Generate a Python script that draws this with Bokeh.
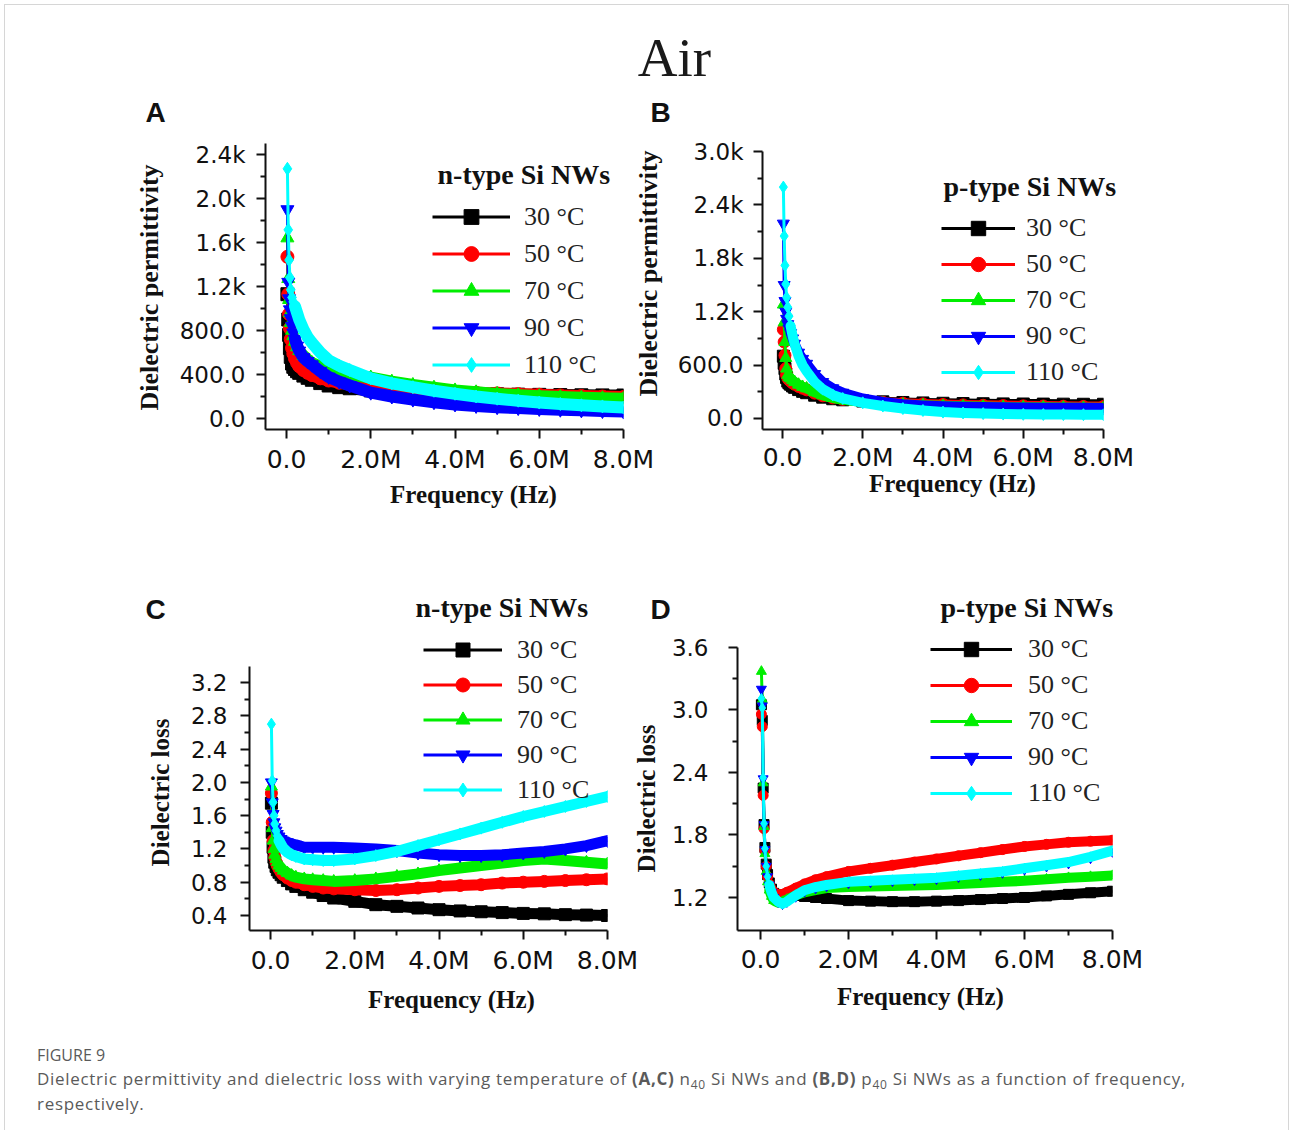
import math
from bokeh.plotting import figure
from bokeh.models import Range1d, FixedTicker, Label, Legend, LegendItem, Div, ColumnDataSource
from bokeh.layouts import row, column
from bokeh.embed import file_html
from bokeh.resources import INLINE

# ---------------- data ----------------
FREQ_MHZ = [0.02, 0.04, 0.06, 0.08, 0.1, 0.13, 0.16, 0.2, 0.25, 0.3, 0.4, 0.5, 0.6, 0.8, 1.0,
            1.25, 1.5, 2.0, 2.5, 3.0, 3.5, 4.0, 4.5, 5.0, 5.5, 6.0, 6.5, 7.0, 7.5, 8.0]
BAND_FROM = 7  # index from which the dense points merge into a band

TEMP_LABELS = ["30 °C", "50 °C", "70 °C", "90 °C", "110 °C"]
COLORS = ["#000000", "#ff0000", "#00ee00", "#0000ff", "#00ffff"]
MARKERS = ["square", "circle", "triangle", "inverted_triangle", "diamond"]

# (A) n-type permittivity
N_PERM_30 = [1130, 900, 760, 640, 560, 500, 470, 450, 430, 415, 390, 370, 352, 322, 300, 285, 275, 255, 245, 238, 232, 227, 223, 220, 217, 215, 213, 211, 210, 209]
N_PERM_50 = [1470, 1130, 950, 820, 720, 640, 590, 545, 505, 475, 440, 415, 395, 365, 345, 325, 310, 290, 275, 262, 252, 243, 235, 228, 222, 216, 210, 205, 200, 195]
N_PERM_70 = [1640, 1270, 1080, 960, 870, 800, 750, 700, 650, 615, 570, 535, 505, 470, 445, 420, 400, 372, 335, 305, 280, 255, 238, 224, 212, 203, 195, 189, 184, 180]
N_PERM_90 = [1900, 1240, 1090, 990, 910, 840, 780, 720, 660, 615, 555, 520, 490, 430, 378, 335, 300, 235, 200, 172, 148, 128, 114, 103, 95, 87, 80, 74, 68, 63]
N_PERM_110 = [2270, 1715, 1440, 1280, 1170, 1100, 1060, 1020, 960, 900, 810, 740, 690, 600, 530, 480, 440, 365, 320, 285, 252, 225, 200, 180, 162, 145, 132, 120, 110, 100]

# (B) p-type permittivity
P_PERM_30 = [700, 620, 560, 500, 460, 420, 400, 385, 365, 350, 325, 305, 290, 262, 240, 222, 210, 196, 187, 180, 175, 171, 168, 166, 164, 163, 162, 161, 160, 160]
P_PERM_50 = [1000, 860, 710, 560, 490, 455, 435, 420, 400, 385, 360, 340, 322, 285, 255, 232, 215, 195, 182, 172, 164, 158, 153, 149, 145, 142, 140, 138, 136, 135]
P_PERM_70 = [1280, 1080, 860, 680, 560, 490, 465, 450, 430, 410, 380, 355, 338, 295, 260, 230, 210, 185, 170, 158, 150, 143, 138, 134, 130, 127, 125, 123, 121, 120]
P_PERM_90 = [2190, 1500, 1320, 1200, 1120, 1060, 1010, 960, 900, 840, 740, 670, 615, 500, 410, 340, 290, 225, 185, 160, 147, 138, 133, 129, 126, 124, 122, 121, 120, 119]
P_PERM_110 = [2600, 2050, 1720, 1510, 1360, 1250, 1150, 1040, 930, 840, 700, 600, 530, 410, 330, 265, 225, 176, 140, 112, 90, 72, 62, 55, 50, 47, 45, 44, 43, 42]

# (C) n-type loss
N_LOSS_30 = [1.75, 1.40, 1.22, 1.10, 1.04, 0.99, 0.95, 0.92, 0.89, 0.86, 0.82, 0.78, 0.75, 0.71, 0.68, 0.64, 0.61, 0.57, 0.53, 0.51, 0.49, 0.47, 0.455, 0.445, 0.435, 0.425, 0.42, 0.41, 0.405, 0.40]
N_LOSS_50 = [1.87, 1.52, 1.30, 1.18, 1.10, 1.04, 1.00, 0.96, 0.92, 0.89, 0.85, 0.82, 0.80, 0.77, 0.75, 0.73, 0.72, 0.71, 0.70, 0.71, 0.73, 0.75, 0.76, 0.77, 0.79, 0.80, 0.81, 0.82, 0.83, 0.84]
N_LOSS_70 = [1.95, 1.45, 1.30, 1.20, 1.13, 1.08, 1.04, 1.00, 0.97, 0.94, 0.91, 0.88, 0.86, 0.84, 0.83, 0.82, 0.81, 0.82, 0.84, 0.87, 0.90, 0.94, 0.97, 1.00, 1.03, 1.06, 1.08, 1.06, 1.04, 1.02]
N_LOSS_90 = [2.00, 1.76, 1.62, 1.52, 1.46, 1.42, 1.38, 1.35, 1.32, 1.30, 1.28, 1.26, 1.25, 1.22, 1.22, 1.22, 1.22, 1.21, 1.20, 1.18, 1.15, 1.13, 1.12, 1.12, 1.13, 1.15, 1.17, 1.20, 1.24, 1.30]
N_LOSS_110 = [2.70, 2.02, 1.76, 1.60, 1.50, 1.42, 1.36, 1.30, 1.25, 1.21, 1.16, 1.13, 1.11, 1.08, 1.07, 1.06, 1.06, 1.08, 1.12, 1.17, 1.24, 1.31, 1.38, 1.45, 1.52, 1.59, 1.65, 1.71, 1.77, 1.83]

# (D) p-type loss
P_LOSS_30 = [3.05, 2.90, 2.25, 1.90, 1.68, 1.52, 1.42, 1.34, 1.28, 1.24, 1.21, 1.22, 1.23, 1.22, 1.21, 1.20, 1.19, 1.17, 1.165, 1.16, 1.16, 1.165, 1.17, 1.18, 1.19, 1.20, 1.215, 1.23, 1.245, 1.26]
P_LOSS_50 = [2.96, 2.84, 2.18, 1.86, 1.65, 1.50, 1.40, 1.33, 1.28, 1.25, 1.23, 1.23, 1.25, 1.29, 1.33, 1.37, 1.40, 1.45, 1.48, 1.51, 1.54, 1.57, 1.60, 1.63, 1.66, 1.69, 1.71, 1.73, 1.74, 1.75]
P_LOSS_70 = [3.37, 3.10, 2.30, 1.88, 1.62, 1.45, 1.35, 1.27, 1.21, 1.17, 1.15, 1.16, 1.18, 1.22, 1.25, 1.27, 1.29, 1.30, 1.305, 1.31, 1.315, 1.32, 1.33, 1.34, 1.35, 1.36, 1.375, 1.39, 1.40, 1.41]
P_LOSS_90 = [3.20, 3.04, 2.34, 1.90, 1.66, 1.50, 1.40, 1.32, 1.25, 1.20, 1.16, 1.14, 1.16, 1.21, 1.26, 1.29, 1.31, 1.34, 1.35, 1.36, 1.37, 1.38, 1.40, 1.42, 1.44, 1.47, 1.50, 1.53, 1.58, 1.64]
P_LOSS_110 = [3.11, 3.02, 2.35, 1.91, 1.67, 1.50, 1.40, 1.32, 1.25, 1.20, 1.16, 1.14, 1.16, 1.22, 1.27, 1.30, 1.32, 1.35, 1.36, 1.37, 1.38, 1.39, 1.41, 1.43, 1.45, 1.48, 1.51, 1.54, 1.59, 1.65]

# ticks
X_TICKS = [0, 2e6, 4e6, 6e6, 8e6]
X_TICK_LABELS = ["0.0", "2.0M", "4.0M", "6.0M", "8.0M"]
X_MINOR = [1e6, 3e6, 5e6, 7e6]

A_Y_TICKS = [0, 400, 800, 1200, 1600, 2000, 2400]
A_Y_LABELS = ["0.0", "400.0", "800.0", "1.2k", "1.6k", "2.0k", "2.4k"]
A_Y_MINOR = [200, 600, 1000, 1400, 1800, 2200]
B_Y_TICKS = [0, 600, 1200, 1800, 2400, 3000]
B_Y_LABELS = ["0.0", "600.0", "1.2k", "1.8k", "2.4k", "3.0k"]
B_Y_MINOR = [300, 900, 1500, 2100, 2700]
C_Y_TICKS = [0.4, 0.8, 1.2, 1.6, 2.0, 2.4, 2.8, 3.2]
C_Y_LABELS = ["0.4", "0.8", "1.2", "1.6", "2.0", "2.4", "2.8", "3.2"]
C_Y_MINOR = [0.6, 1.0, 1.4, 1.8, 2.2, 2.6, 3.0]
D_Y_TICKS = [1.2, 1.8, 2.4, 3.0, 3.6]
D_Y_LABELS = ["1.2", "1.8", "2.4", "3.0", "3.6"]
D_Y_MINOR = [1.5, 2.1, 2.7, 3.3]

FIG_TITLE = "Air"
PANEL_LETTERS = ["A", "B", "C", "D"]
LEGEND_TITLES = ["n-type Si NWs", "p-type Si NWs", "n-type Si NWs", "p-type Si NWs"]
X_LABEL = "Frequency (Hz)"
Y_LABELS = ["Dielectric permittivity", "Dielectric permittivity", "Dielectric loss", "Dielectric loss"]

FREQ_HZ = [f * 1e6 for f in FREQ_MHZ]
INK = "#111111"


def panel(series, c):
    p = figure(width=c["w"], height=c["h"],
               x_range=Range1d(c["x0"], 8e6), y_range=Range1d(c["y0"], c["y1"]),
               output_backend="svg", toolbar_location=None,
               min_border_left=c["bl"], min_border_right=c["br"],
               min_border_top=c["bt"], min_border_bottom=c["bb"])
    p.outline_line_color = None
    p.border_fill_color = None
    p.background_fill_color = None
    p.grid.visible = False

    xa, ya = p.xaxis[0], p.yaxis[0]
    xa.ticker = FixedTicker(ticks=X_TICKS, minor_ticks=X_MINOR)
    xa.major_label_overrides = dict(zip(X_TICKS, X_TICK_LABELS))
    ya.ticker = FixedTicker(ticks=c["yt"], minor_ticks=c["ym"])
    ya.major_label_overrides = dict(zip(c["yt"], c["yl"]))
    ya.bounds = (c["y0"], c["ytop"])
    for ax in (xa, ya):
        ax.axis_line_width = 2
        ax.axis_line_color = INK
        ax.major_tick_line_width = 2
        ax.minor_tick_line_width = 2
        ax.major_tick_line_color = INK
        ax.minor_tick_line_color = INK
        ax.major_tick_in = 0
        ax.major_tick_out = 9
        ax.minor_tick_in = 0
        ax.minor_tick_out = 5
        ax.major_label_text_font = "DejaVu Sans"
        ax.major_label_text_color = INK
    xa.major_label_text_font_size = "25px"
    ya.major_label_text_font_size = "23px"
    xa.major_label_standoff = c["xs"]
    ya.major_label_standoff = c["ys"]

    items = []
    for k, vals in enumerate(series):
        src = ColumnDataSource(dict(x=FREQ_HZ, y=vals))
        thin = p.line("x", "y", source=src, line_color=COLORS[k], line_width=3)
        p.line(FREQ_HZ[BAND_FROM:], vals[BAND_FROM:], line_color=COLORS[k],
               line_width=c["bands"][k], line_join="round", line_cap="round")
        sc = p.scatter("x", "y", source=src, marker=MARKERS[k], size=c["ms"],
                       fill_color=COLORS[k], line_color=COLORS[k])
        items.append(LegendItem(label=TEMP_LABELS[k], renderers=[thin, sc]))

    leg = Legend(items=items, location=c["leg"], orientation="vertical",
                 glyph_width=c["gw"], glyph_height=c["gh"], label_height=c["gh"],
                 spacing=0, padding=0, margin=0, label_standoff=c["ls"],
                 border_line_color=None, background_fill_color=None,
                 label_text_font="Liberation Serif", label_text_font_size="26px",
                 label_text_color="#222222")
    p.add_layout(leg)
    return p


# geometry (row frames share top/bottom; axis bounds trim the visible y axis)
cfgA = dict(w=685, h=555, bl=260, br=67, bt=138, bb=131, x0=-0.5e6, y0=-100, y1=2500, ytop=2500,
            yt=A_Y_TICKS, yl=A_Y_LABELS, ym=A_Y_MINOR, xs=6, ys=11, bands=[12, 12, 12, 12, 12], ms=13,
            leg=(167, 46), gw=78, gh=37, ls=14)
cfgB = dict(w=658, h=555, bl=132, br=185, bt=138, bb=131, x0=-0.5e6, y0=-123.6, y1=3089.9, ytop=3000,
            yt=B_Y_TICKS, yl=B_Y_LABELS, ym=B_Y_MINOR, xs=4, ys=10, bands=[10, 10, 10, 10, 10], ms=12,
            leg=(179, 39), gw=74, gh=36, ls=11)
cfgC = dict(w=685, h=470, bl=244, br=83, bt=40, bb=100, x0=-0.5e6, y0=0.2197, y1=4.186, ytop=3.39,
            yt=C_Y_TICKS, yl=C_Y_LABELS, ym=C_Y_MINOR, xs=6, ys=13, bands=[11, 11, 11, 11, 11], ms=12,
            leg=(174, 123), gw=79, gh=35, ls=15)
cfgD = dict(w=673, h=470, bl=122, br=176, bt=40, bb=100, x0=-0.523e6, y0=0.883, y1=4.051, ytop=3.6,
            yt=D_Y_TICKS, yl=D_Y_LABELS, ym=D_Y_MINOR, xs=5, ys=20, bands=[10, 10, 10, 6, 10], ms=10,
            leg=(193, 119), gw=82, gh=36, ls=16)

pA = panel([N_PERM_30, N_PERM_50, N_PERM_70, N_PERM_90, N_PERM_110], cfgA)
pB = panel([P_PERM_30, P_PERM_50, P_PERM_70, P_PERM_90, P_PERM_110], cfgB)
pC = panel([N_LOSS_30, N_LOSS_50, N_LOSS_70, N_LOSS_90, N_LOSS_110], cfgC)
pD = panel([P_LOSS_30, P_LOSS_50, P_LOSS_70, P_LOSS_90, P_LOSS_110], cfgD)
pB.margin = (0, 0, 0, -60)
pD.margin = (0, 0, 0, -75)

CAPTION_HTML = (
    '<div style="font-family:\'Open Sans\';color:#5a5a5a;padding:13px 0 0 32px;white-space:nowrap;">'
    '<div style="font-size:16px;line-height:24px;">FIGURE 9</div>'
    '<div style="font-size:17px;line-height:24.5px;letter-spacing:0.7px;">Dielectric permittivity and dielectric loss with '
    'varying temperature of <b>(A,C)</b> n<sub style="font-size:12px;line-height:0;">40</sub> Si NWs and '
    '<b>(B,D)</b> p<sub style="font-size:12px;line-height:0;">40</sub> Si NWs as a function of frequency,'
    '<br>respectively.</div></div>'
)
caption = Div(text=CAPTION_HTML, width=1283, height=100, margin=0)

# transparent text layer under the whole figure (page-pixel coordinates)
OX, OY, OW, OH = 5, 5, 1283, 1125
ov = figure(width=OW, height=OH, x_range=Range1d(OX, OX + OW), y_range=Range1d(OY + OH, OY),
            x_axis_type=None, y_axis_type=None, output_backend="svg", toolbar_location=None,
            min_border=0)
ov.outline_line_color = None
ov.border_fill_color = None
ov.background_fill_color = None
ov.grid.visible = False
ov.margin = (0, 0, -OH, 0)

BASE_SHIFT = 0.38  # measured offset of the rendered alphabetic baseline, in em


def txt(x, y, text, font, size, style="normal", align="left", angle=0.0, color=INK):
    if angle == 0.0:
        y = y - BASE_SHIFT * size
    else:
        x = x - 0.3 * size
    ov.add_layout(Label(x=x, y=y, text=text, text_font=font, text_font_size=f"{size}px",
                        text_font_style=style, text_align=align, text_baseline="alphabetic",
                        angle=angle, text_color=color))


txt(674, 78, FIG_TITLE, "Liberation Serif", 55, align="center", color="#1a1a1a")
for letter, (x, y) in zip(PANEL_LETTERS, [(145, 123), (650, 123), (145, 620), (650, 620)]):
    txt(x, y, letter, "Liberation Sans", 28, style="bold")
for t, (x, y) in zip(LEGEND_TITLES, [(437, 185), (943, 197), (415, 618), (940, 618)]):
    txt(x, y, t, "Liberation Serif", 28, style="bold")
for x, y in [(473, 503), (952, 492), (451, 1008), (920, 1005)]:
    txt(x, y, X_LABEL, "Liberation Serif", 25, style="bold", align="center")
for t, (x, y), fs in zip(Y_LABELS, [(157, 287), (656, 273), (167, 792), (653, 798)], [26, 26, 25, 25]):
    txt(x, y, t, "Liberation Serif", fs, style="bold", align="center", angle=math.pi / 2)

layout = column(ov, row(pA, pB), row(pC, pD), caption,
                styles={"border-top": "1px solid #d6d6d6", "border-left": "1px solid #d6d6d6",
                        "border-right": "1px solid #d6d6d6"})
layout.margin = (4, 0, 0, 4)

open("out.html", "w").write(file_html(layout, INLINE))
